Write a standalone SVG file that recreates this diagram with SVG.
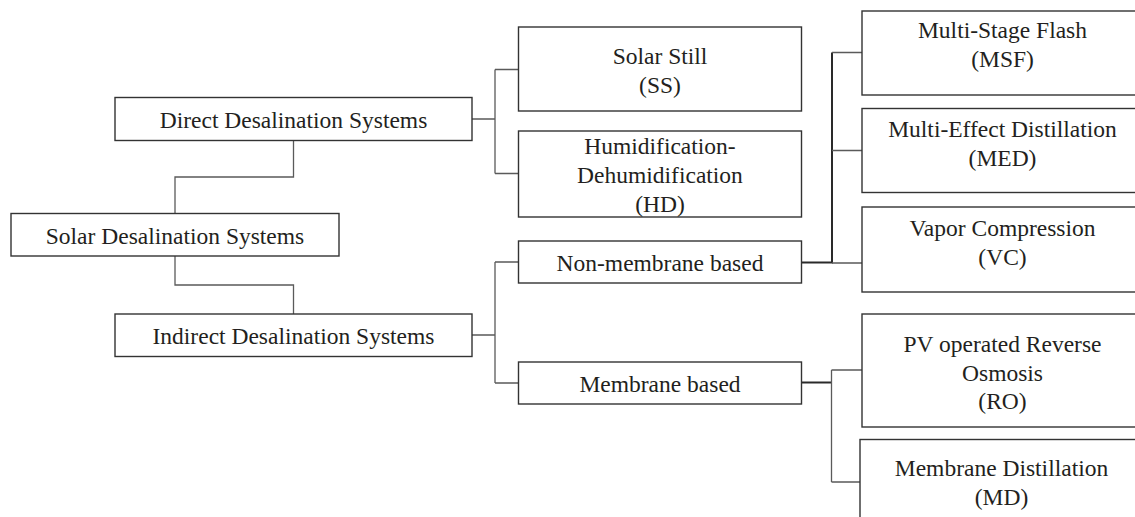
<svg xmlns="http://www.w3.org/2000/svg" width="1135" height="517" viewBox="0 0 1135 517">
<style>
.box{fill:#fff;stroke:#333;stroke-width:1.4}
.t{font-family:"Liberation Serif","Times New Roman",serif;font-size:23.5px;fill:#231f20;text-anchor:middle}
.c{fill:none;stroke:#5a5a5a;stroke-width:1.3}
.cd{fill:none;stroke:#2a2a2a;stroke-width:2}
</style>
<rect width="1135" height="517" fill="#fff"/>
<g id="connectors">
<path class="c" d="M293.5 140.5V177H175V213"/>
<path class="c" d="M175 256V285H293.5V314"/>
<path class="c" d="M472 119H495M495 69.5V173.5M495 69.5H518M495 173.5H518"/>
<path class="c" d="M472 335H495M495 262V383M495 262H518M495 383H518"/>
<path class="cd" d="M801 262.5H832V52.5"/>
<path class="c" d="M832 52.5H862M832 150.5H862M832 263H862"/>
<path class="cd" d="M801 382.5H831.5"/>
<path class="c" d="M831.5 370V482M831.5 370H862M831.5 482H860"/>
</g>
<g id="n-solar"><rect class="box" x="11" y="213.5" width="328" height="42.5"/><text class="t" x="175" y="244">Solar Desalination Systems</text></g>
<g id="n-direct"><rect class="box" x="115" y="97.5" width="357" height="43"/><text class="t" x="293.5" y="128.3">Direct Desalination Systems</text></g>
<g id="n-indirect"><rect class="box" x="115" y="314" width="357" height="42.5"/><text class="t" x="293.5" y="344.3">Indirect Desalination Systems</text></g>
<g id="n-ss"><rect class="box" x="518.5" y="27" width="283" height="84"/><text class="t" x="660" y="64.3">Solar Still</text><text class="t" x="660" y="93.3">(SS)</text></g>
<g id="n-hd"><rect class="box" x="518.5" y="131" width="283" height="86"/><text class="t" x="660" y="154.3">Humidification-</text><text class="t" x="660" y="183.3">Dehumidification</text><text class="t" x="660" y="211.5">(HD)</text></g>
<g id="n-nm"><rect class="box" x="518.5" y="241" width="283" height="42"/><text class="t" x="660" y="270.7">Non-membrane based</text></g>
<g id="n-m"><rect class="box" x="518.5" y="362" width="283" height="42"/><text class="t" x="660" y="391.7">Membrane based</text></g>
<g id="n-msf"><rect class="box" x="862" y="11" width="281" height="84"/><text class="t" x="1002.5" y="38.3">Multi-Stage Flash</text><text class="t" x="1002.5" y="67.3">(MSF)</text></g>
<g id="n-med"><rect class="box" x="862" y="108.5" width="281" height="84"/><text class="t" x="1002.5" y="137.3">Multi-Effect Distillation</text><text class="t" x="1002.5" y="165.8">(MED)</text></g>
<g id="n-vc"><rect class="box" x="862" y="207" width="281" height="85"/><text class="t" x="1002.5" y="236">Vapor Compression</text><text class="t" x="1002.5" y="264.5">(VC)</text></g>
<g id="n-ro"><rect class="box" x="862" y="314" width="281" height="113"/><text class="t" x="1002.5" y="351.7">PV operated Reverse</text><text class="t" x="1002.5" y="380.7">Osmosis</text><text class="t" x="1002.5" y="409">(RO)</text></g>
<g id="n-md"><rect class="box" x="860" y="439.5" width="283" height="100"/><text class="t" x="1001.5" y="476">Membrane Distillation</text><text class="t" x="1001.5" y="504.5">(MD)</text></g>
</svg>
